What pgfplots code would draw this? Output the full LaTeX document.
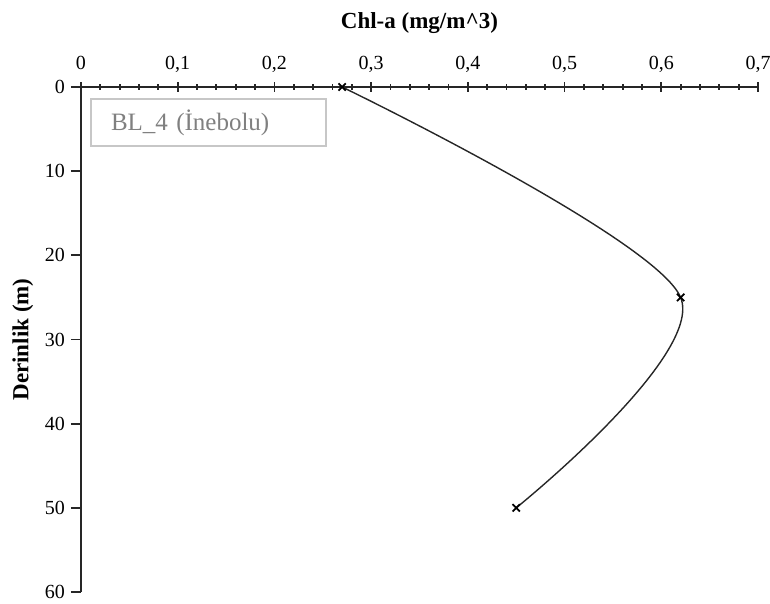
\documentclass[border=0pt]{standalone}
\usepackage{fontspec}
\setmainfont{Liberation Serif}
\usepackage{pgfplots}
\pgfplotsset{compat=1.18}

\definecolor{curvegray}{gray}{0.15}
\definecolor{boxgray}{gray}{0.78}
\definecolor{textgray}{gray}{0.5}

\begin{document}
\begin{tikzpicture}
\begin{axis}[
  scale only axis,
  width=338.5pt, height=252.5pt,
  xmin=0, xmax=0.7, ymin=0, ymax=60,
  y dir=reverse,
  axis x line=top, axis y line=left,
  axis line style={-, line width=1.1pt, black!85},
  xtick={0,0.1,...,0.7},
  minor x tick num=4,
  ytick={0,10,...,60},
  x tick label style={anchor=base,
    /pgf/number format/use comma,
    /pgf/number format/fixed,
    /pgf/number format/precision=1,
    /pgf/number format/assume math mode=true},
  y tick label style={/pgf/number format/assume math mode=true},
  xtick style={line width=0.9pt, black!85},
  ytick style={line width=0.9pt, black!85},
  xtick align=center,
  ytick align=outside,
  major tick length=5pt,
  minor tick length=3pt,
  every tick label/.append style={font=\fontsize{10}{12}\selectfont},
  xticklabel shift=6.5pt,
  yticklabel shift=-0.5pt,
  xlabel={\textbf{Chl-a (mg/m\textasciicircum3)}},
  ylabel={\textbf{Derinlik (m)}},
  label style={font=\fontsize{11.5}{13}\selectfont},
  xlabel style={yshift=4pt},
  ylabel style={yshift=-1pt},
  clip=false,
]
\addplot[color=curvegray, line width=0.7pt, smooth, tension=0.5,
  mark=x, mark size=2.6pt, mark options={solid, line width=0.9pt, black}]
  coordinates {(0.27,0) (0.62,25) (0.45,50)};

\node[draw=boxgray, line width=1pt, anchor=north west,
  minimum width=117.5pt, minimum height=23.5pt, inner sep=0pt,
  text=textgray, font=\fontsize{12.5}{14}\selectfont,
  text width=107.5pt, align=left]
  at ([shift={(4.5pt,-5.5pt)}]axis cs:0,0) {\hspace*{5pt}BL\_4 (İnebolu)};

\coordinate (tl) at (axis cs:0,0);
\coordinate (br) at (axis cs:0.7,60);
\end{axis}
\pgfresetboundingbox
\path ([shift={(-40.5pt,43.5pt)}]tl) rectangle ([shift={(6pt,-6pt)}]br);
\end{tikzpicture}
\end{document}
